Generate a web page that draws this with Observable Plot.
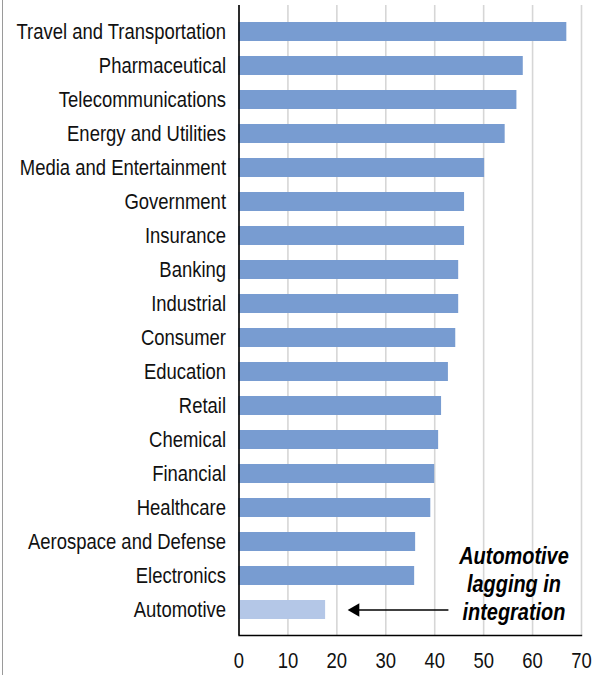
<!DOCTYPE html>
<html>
<head>
<meta charset="utf-8">
<script src="https://cdn.jsdelivr.net/npm/d3@7"></script>
<script src="https://cdn.jsdelivr.net/npm/@observablehq/plot@0.6"></script>
<style>
  html, body { margin: 0; padding: 0; background: #fff; }
  #wrap { position: relative; width: 600px; height: 675px; }
  #edge { position: absolute; left: 2px; top: 0; width: 1px; height: 675px; background: #9a9a9a; }
</style>
</head>
<body>
<div id="wrap"><div id="edge"></div></div>
<script>
const categories = [
  "Travel and Transportation", "Pharmaceutical", "Telecommunications",
  "Energy and Utilities", "Media and Entertainment", "Government",
  "Insurance", "Banking", "Industrial", "Consumer", "Education",
  "Retail", "Chemical", "Financial", "Healthcare",
  "Aerospace and Defense", "Electronics", "Automotive"
];
const values = [67, 58.1, 56.8, 54.4, 50.2, 46.1, 46.1, 44.9, 44.9, 44.3, 42.8, 41.4, 40.8, 40.0, 39.2, 36.1, 35.9, 17.7];
const highlighted = "Automotive";
const xTicks = [0, 10, 20, 30, 40, 50, 60, 70];
const annotationText = "Automotive\nlagging in\nintegration";
const annotationX = 56.2;
const annotationRow = "Electronics";
const arrowFrom = 42.8;
const arrowTo = 23.8;

const data = categories.map((c, i) => ({category: c, value: values[i]}));

const font = "'Liberation Sans', Arial, sans-serif";

const chart = Plot.plot({
  width: 600,
  height: 675,
  marginLeft: 238.5,
  marginRight: 19,
  marginTop: 5,
  marginBottom: 40,
  style: {fontFamily: font, fontSize: "22.5px", color: "#111", background: "transparent"},
  x: {domain: [0, 70], ticks: xTicks, tickSize: 0, tickPadding: 17, label: null},
  y: {domain: categories, paddingInner: 0.45, paddingOuter: 0.41, tickSize: 0, tickPadding: 13, label: null},
  marks: [
    Plot.gridX(xTicks, {stroke: "#d6d6d6", strokeOpacity: 1, strokeWidth: 1.6}),
    Plot.barX(data.filter(d => d.category !== highlighted), {x: "value", y: "category", fill: "#789cd1"}),
    Plot.barX(data.filter(d => d.category === highlighted), {x: "value", y: "category", fill: "#b4c7e7"}),
    Plot.ruleX([0], {stroke: "#000", strokeWidth: 1.6}),
    Plot.frame({anchor: "bottom", stroke: "#000", strokeWidth: 1.4}),
    Plot.link([{category: highlighted}], {x1: arrowFrom, x2: arrowTo, y1: "category", y2: "category", stroke: "#000", strokeWidth: 1.3}),
    Plot.dot([{category: highlighted}], {x: arrowTo, y: "category", symbol: "triangle", rotate: -90, r: 5, fill: "#000", stroke: "none"}),
    Plot.text([annotationText], {
      x: annotationX, y: [annotationRow], text: d => d,
      fontSize: 24, fontWeight: "bold", fontStyle: "italic",
      lineHeight: 1.17, textAnchor: "middle", lineAnchor: "middle", dy: 7, fill: "#000"
    })
  ]
});
document.getElementById("wrap").appendChild(chart);

// emulate a narrow typeface: compress glyphs horizontally in place
chart.querySelectorAll("text").forEach(t => {
  const parts = t.querySelectorAll("tspan");
  const narrow = parts.length ? 0.83 : 0.82;
  const targets = parts.length ? Array.from(parts) : [t];
  targets.forEach(el => {
    const w = el.getComputedTextLength();
    if (w > 0) {
      el.setAttribute("textLength", (w * narrow).toFixed(2));
      el.setAttribute("lengthAdjust", "spacingAndGlyphs");
    }
  });
});
</script>
</body>
</html>
